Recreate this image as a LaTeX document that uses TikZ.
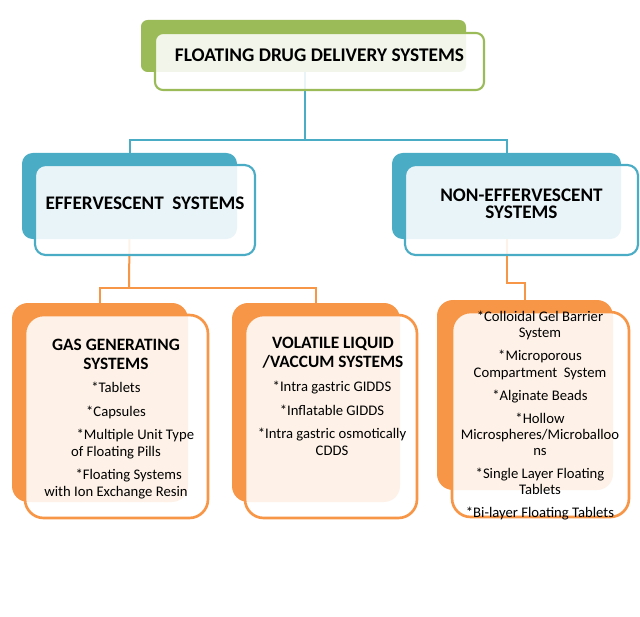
\documentclass[tikz,border=0pt]{standalone}
\usepackage{fontspec}
\setmainfont{Carlito}
\usetikzlibrary{fit,backgrounds}
\definecolor{fdsgreen}{HTML}{9BBB59}
\definecolor{fdsblue}{HTML}{4BACC6}
\definecolor{fdsorange}{HTML}{F79646}
\tikzset{
    backbox/.style={fill=#1, draw=none, rounded corners=8pt, inner sep=0pt},
    frontbox/.style={draw=#1, line width=1.6pt, fill=white, fill opacity=0.88,
        text opacity=1, rounded corners=8pt, inner sep=0pt},
    link/.style={draw=#1, line width=1.5pt},
    blocktxt/.style={font=\fontsize{14.4}{13}\selectfont\bfseries, align=center},
    headtxt/.style={font=\fontsize{13}{14.5}\selectfont\bfseries, align=center, inner sep=0pt},
    itemtxt/.style={font=\fontsize{11}{12.2}\selectfont, align=center, inner sep=0pt},
}
\begin{document}
\begin{tikzpicture}[x=0.75pt, y=-0.75pt]
        \useasboundingbox (0,0) rectangle (640,617);

        % Top box
        \node[backbox=fdsgreen, rounded corners=5pt, fit={(141,20) (466,72)}] (titleback) {};
        \node[frontbox=fdsgreen, rounded corners=6pt, fit={(155,33) (484,90)},
            font=\fontsize{14.5}{16}\selectfont\bfseries] (titlefront) {FLOATING DRUG DELIVERY SYSTEMS};

        % Second level
        \node[backbox=fdsblue, fit={(22,153) (237,239)}] (effback) {};
        \node[frontbox=fdsblue, fit={(35,165) (255,255)}, blocktxt] (efffront) {EFFERVESCENT\hspace{0.45em}SYSTEMS};
        \node[backbox=fdsblue, fit={(392,153) (621,239)}] (noneffback) {};
        \node[frontbox=fdsblue, fit={(405,165) (638,255)}, blocktxt] (nonefffront) {NON-EFFERVESCENT\\SYSTEMS};

        % Third level
        \node[backbox=fdsorange, rounded corners=12pt, fit={(12,303) (188,502)}] (gasback) {};
        \node[frontbox=fdsorange, rounded corners=14pt, line width=2pt, fit={(25,315) (208,518)}] (gasfront) {};
        \node[headtxt, anchor=north] (gashead) at (116,339) {GAS GENERATING\\SYSTEMS};
        \node[itemtxt, anchor=north] (gasitems) at (116,382) {*Tablets\\[5.5pt]
            *Capsules\\[5.5pt]
            \hspace*{29pt}*Multiple Unit Type\\
            of Floating Pills\\[5.5pt]
            \hspace*{19pt}*Floating Systems\\
            with Ion Exchange Resin};

        \node[backbox=fdsorange, rounded corners=12pt, fit={(232,303) (400,502)}] (volback) {};
        \node[frontbox=fdsorange, rounded corners=14pt, line width=2pt, fit={(245,315) (417,518)}] (volfront) {};
        \node[headtxt, anchor=north] (volhead) at (333,337) {VOLATILE LIQUID\\/VACCUM SYSTEMS};
        \node[itemtxt, anchor=north] (volitems) at (332,381) {*Intra gastric GIDDS\\[5.5pt]
            *Inflatable GIDDS\\[5.5pt]
            *Intra gastric osmotically\\
            CDDS};

        \node[backbox=fdsorange, rounded corners=12pt, fit={(437,300) (613,490)}] (microback) {};
        \node[frontbox=fdsorange, rounded corners=14pt, line width=2pt, fit={(452,312) (629,517)}] (microfront) {};
        \node[itemtxt, anchor=north] (microitems) at (540,311) {*Colloidal Gel Barrier\\
            System\\[5pt]
            *Microporous\\
            Compartment\ \ System\\[5pt]
            *Alginate Beads\\[5pt]
            *Hollow\\
            Microspheres/Microballoo\\
            ns\\[5pt]
            *Single Layer Floating\\
            Tablets\\[5pt]
            *Bi-layer Floating Tablets};

        % Connectors
        \coordinate (split) at (305,140);
        \coordinate (ejoin) at (129,288);
        \coordinate (njoin) at (525,283);
        \begin{scope}[on background layer]
            \draw[link=fdsblue] (titleback.south -| split) -- (split);
            \draw[link=fdsblue] (effback.north) |- (split) -| (noneffback.north);
            \draw[link=fdsorange] (effback.south) -- (ejoin);
            \draw[link=fdsorange] (gasback.north) |- (ejoin) -| (volback.north);
            \draw[link=fdsorange] (noneffback.south) |- (njoin) -- (microback.north);
        \end{scope}
\end{tikzpicture}
\end{document}
